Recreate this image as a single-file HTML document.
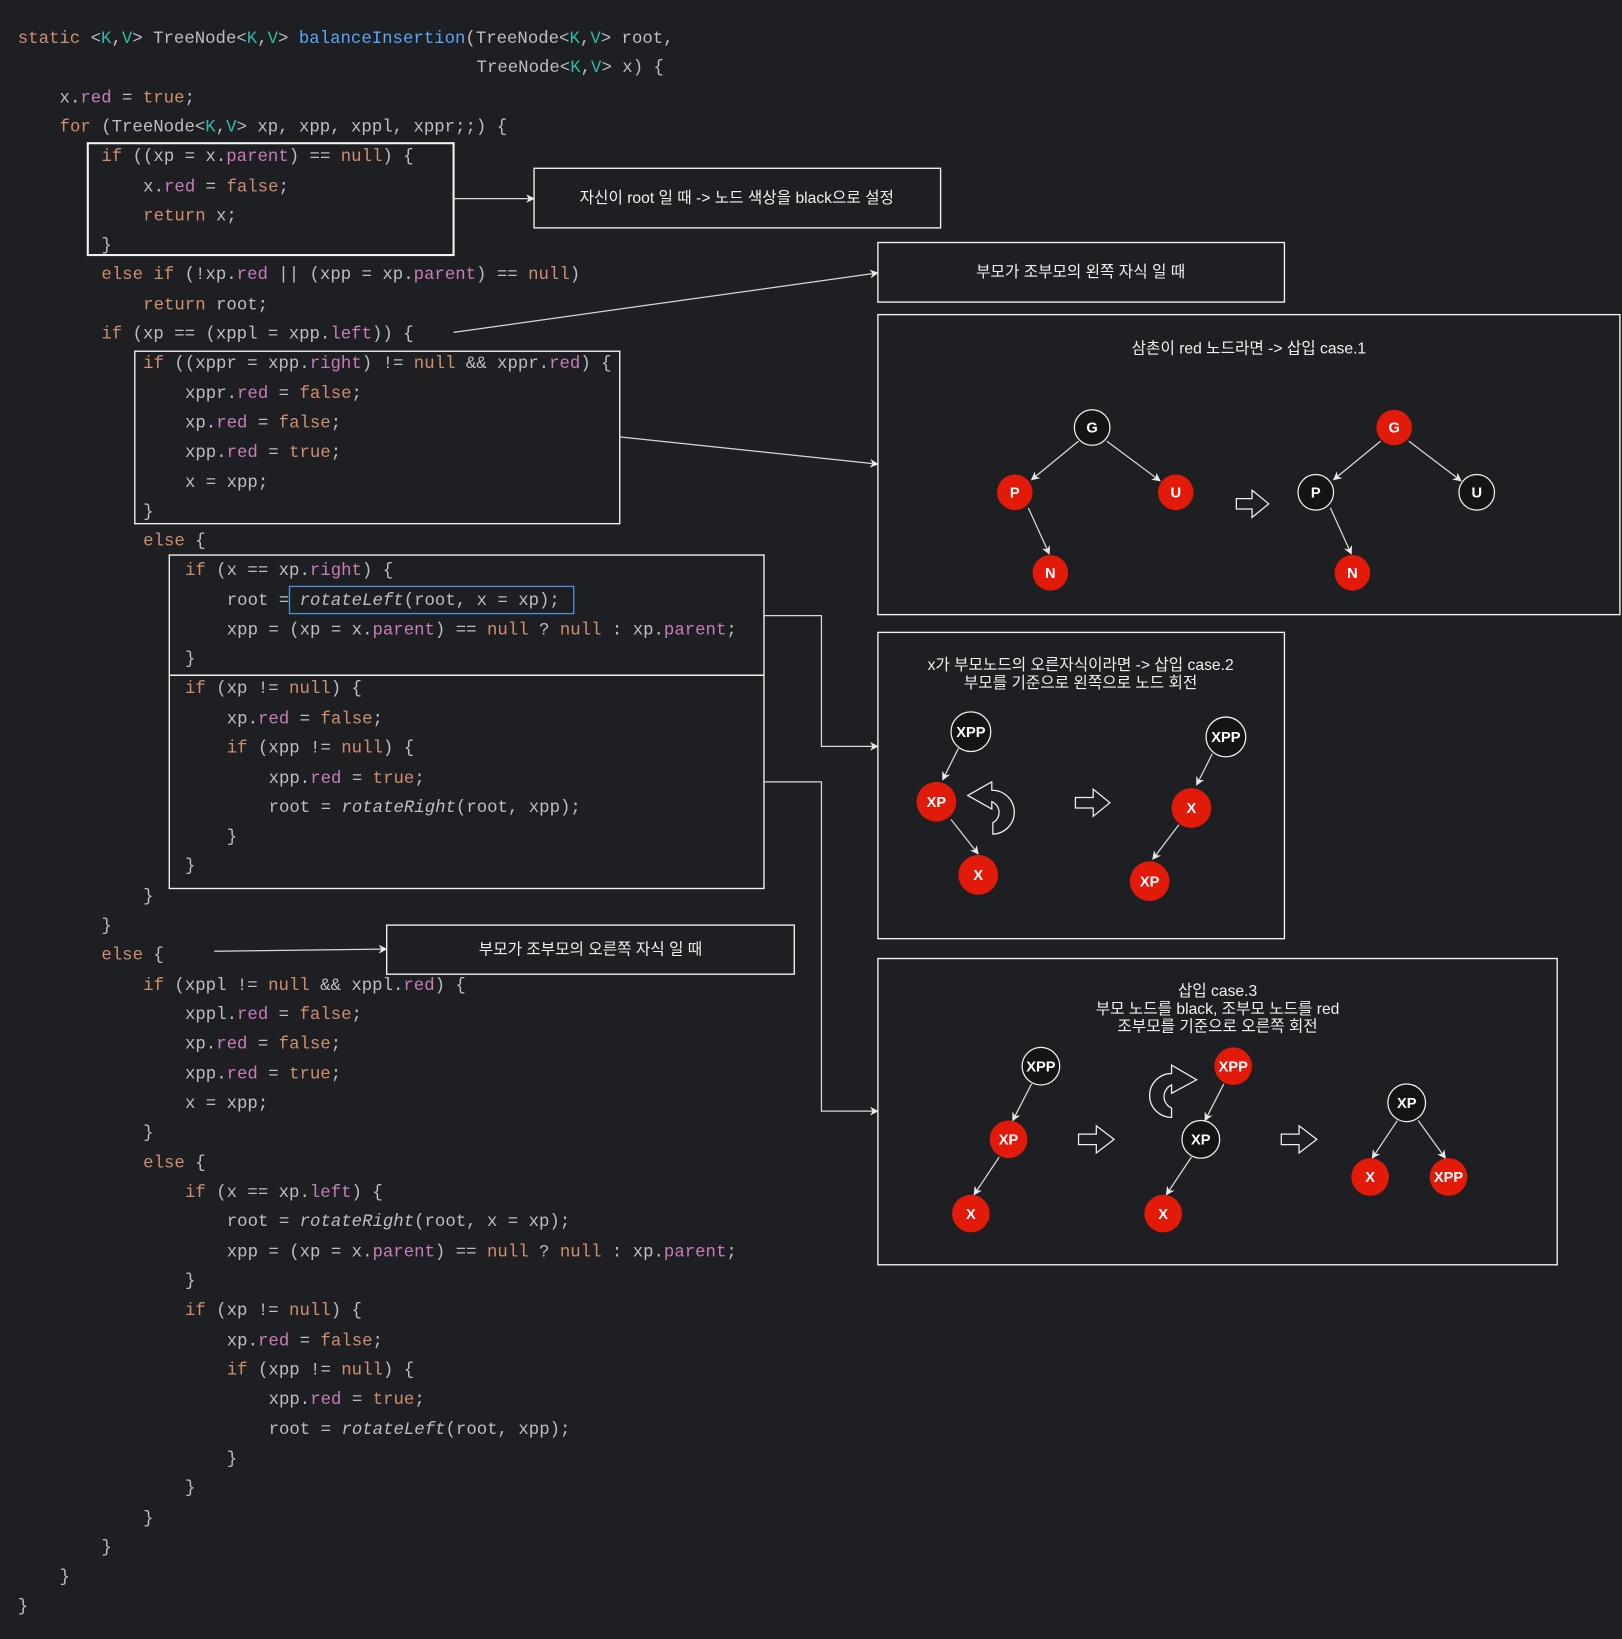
<!DOCTYPE html>
<html><head><meta charset="utf-8"><style>
html,body{margin:0;padding:0;background:#1e1f22;}
svg{display:block}
.c{font-family:"Liberation Mono",monospace;font-size:16.6px;fill:#bcbec4;white-space:pre}
.k{fill:#cf8e6d}.f{fill:#c77dbb}.t{fill:#2fb8a8}.m{fill:#56a8f5}.i{font-style:italic}
.lb{font-family:"Liberation Sans","Noto Sans CJK KR",sans-serif;font-size:15px;fill:#f0f0f0;text-anchor:middle}
.nd{font-family:"Liberation Sans",sans-serif;font-weight:bold;font-size:14px;fill:#fff;text-anchor:middle}
.bx{fill:none;stroke:#f2f2f2;stroke-width:1.3}
.ln{fill:none;stroke:#d8d8d8;stroke-width:1.2}
.blk{fill:#141417;stroke:#f0f0f0;stroke-width:1.2}
.red{fill:#e21a0a}
.ar{fill:#1e1f22;stroke:#f0f0f0;stroke-width:1.2}
</style></head><body>
<svg width="1622" height="1639" viewBox="0 0 1552 1568" preserveAspectRatio="none" xmlns="http://www.w3.org/2000/svg">
<defs><marker id="a" viewBox="0 0 10 10" refX="9" refY="5" markerWidth="7" markerHeight="7" orient="auto"><path d="M0,0 L10,5 L0,10 L3,5 Z" fill="#e8e8e8"/></marker></defs>
<rect width="1552" height="1568" fill="#1e1f22"/>
<g class="c" xml:space="preserve">
<text x="17" y="41"><tspan class="k">static</tspan> &lt;<tspan class="t">K</tspan>,<tspan class="t">V</tspan>&gt; TreeNode&lt;<tspan class="t">K</tspan>,<tspan class="t">V</tspan>&gt; <tspan class="m">balanceInsertion</tspan>(TreeNode&lt;<tspan class="t">K</tspan>,<tspan class="t">V</tspan>&gt; root,</text>
<text x="456" y="69">TreeNode&lt;<tspan class="t">K</tspan>,<tspan class="t">V</tspan>&gt; x) {</text>
<text x="57" y="98">x.<tspan class="f">red</tspan> = <tspan class="k">true</tspan>;</text>
<text x="57" y="126"><tspan class="k">for</tspan> (TreeNode&lt;<tspan class="t">K</tspan>,<tspan class="t">V</tspan>&gt; xp, xpp, xppl, xppr;;) {</text>
<text x="97" y="154"><tspan class="k">if</tspan> ((xp = x.<tspan class="f">parent</tspan>) == <tspan class="k">null</tspan>) {</text>
<text x="137" y="183">x.<tspan class="f">red</tspan> = <tspan class="k">false</tspan>;</text>
<text x="137" y="211"><tspan class="k">return</tspan> x;</text>
<text x="97" y="239">}</text>
<text x="97" y="267"><tspan class="k">else if</tspan> (!xp.<tspan class="f">red</tspan> || (xpp = xp.<tspan class="f">parent</tspan>) == <tspan class="k">null</tspan>)</text>
<text x="137" y="296"><tspan class="k">return</tspan> root;</text>
<text x="97" y="324"><tspan class="k">if</tspan> (xp == (xppl = xpp.<tspan class="f">left</tspan>)) {</text>
<text x="137" y="352"><tspan class="k">if</tspan> ((xppr = xpp.<tspan class="f">right</tspan>) != <tspan class="k">null</tspan> &amp;&amp; xppr.<tspan class="f">red</tspan>) {</text>
<text x="177" y="381">xppr.<tspan class="f">red</tspan> = <tspan class="k">false</tspan>;</text>
<text x="177" y="409">xp.<tspan class="f">red</tspan> = <tspan class="k">false</tspan>;</text>
<text x="177" y="437">xpp.<tspan class="f">red</tspan> = <tspan class="k">true</tspan>;</text>
<text x="177" y="466">x = xpp;</text>
<text x="137" y="494">}</text>
<text x="137" y="522"><tspan class="k">else</tspan> {</text>
<text x="177" y="550"><tspan class="k">if</tspan> (x == xp.<tspan class="f">right</tspan>) {</text>
<text x="217" y="579">root = <tspan class="i">rotateLeft</tspan>(root, x = xp);</text>
<text x="217" y="607">xpp = (xp = x.<tspan class="f">parent</tspan>) == <tspan class="k">null</tspan> ? <tspan class="k">null</tspan> : xp.<tspan class="f">parent</tspan>;</text>
<text x="177" y="635">}</text>
<text x="177" y="663"><tspan class="k">if</tspan> (xp != <tspan class="k">null</tspan>) {</text>
<text x="217" y="692">xp.<tspan class="f">red</tspan> = <tspan class="k">false</tspan>;</text>
<text x="217" y="720"><tspan class="k">if</tspan> (xpp != <tspan class="k">null</tspan>) {</text>
<text x="257" y="749">xpp.<tspan class="f">red</tspan> = <tspan class="k">true</tspan>;</text>
<text x="257" y="777">root = <tspan class="i">rotateRight</tspan>(root, xpp);</text>
<text x="217" y="805">}</text>
<text x="177" y="833">}</text>
<text x="137" y="862">}</text>
<text x="97" y="890">}</text>
<text x="97" y="918"><tspan class="k">else</tspan> {</text>
<text x="137" y="947"><tspan class="k">if</tspan> (xppl != <tspan class="k">null</tspan> &amp;&amp; xppl.<tspan class="f">red</tspan>) {</text>
<text x="177" y="975">xppl.<tspan class="f">red</tspan> = <tspan class="k">false</tspan>;</text>
<text x="177" y="1003">xp.<tspan class="f">red</tspan> = <tspan class="k">false</tspan>;</text>
<text x="177" y="1032">xpp.<tspan class="f">red</tspan> = <tspan class="k">true</tspan>;</text>
<text x="177" y="1060">x = xpp;</text>
<text x="137" y="1088">}</text>
<text x="137" y="1117"><tspan class="k">else</tspan> {</text>
<text x="177" y="1145"><tspan class="k">if</tspan> (x == xp.<tspan class="f">left</tspan>) {</text>
<text x="217" y="1173">root = <tspan class="i">rotateRight</tspan>(root, x = xp);</text>
<text x="217" y="1202">xpp = (xp = x.<tspan class="f">parent</tspan>) == <tspan class="k">null</tspan> ? <tspan class="k">null</tspan> : xp.<tspan class="f">parent</tspan>;</text>
<text x="177" y="1230">}</text>
<text x="177" y="1258"><tspan class="k">if</tspan> (xp != <tspan class="k">null</tspan>) {</text>
<text x="217" y="1287">xp.<tspan class="f">red</tspan> = <tspan class="k">false</tspan>;</text>
<text x="217" y="1315"><tspan class="k">if</tspan> (xpp != <tspan class="k">null</tspan>) {</text>
<text x="257" y="1343">xpp.<tspan class="f">red</tspan> = <tspan class="k">true</tspan>;</text>
<text x="257" y="1372">root = <tspan class="i">rotateLeft</tspan>(root, xpp);</text>
<text x="217" y="1400">}</text>
<text x="177" y="1428">}</text>
<text x="137" y="1457">}</text>
<text x="97" y="1485">}</text>
<text x="57" y="1513">}</text>
<text x="17" y="1541">}</text>
</g>
<rect class="bx" x="84" y="137" width="350" height="107" style="stroke-width:2"/>
<rect class="bx" x="129" y="336" width="464" height="165"/>
<rect class="bx" x="162" y="531" width="569" height="115"/>
<rect class="bx" x="162" y="646" width="569" height="204"/>
<rect x="277" y="561" width="272" height="26" fill="none" stroke="#4a8fd8" stroke-width="1.3"/>
<rect class="bx" x="511" y="161" width="389" height="57"/>
<text class="lb" x="705" y="194">자신이 root 일 때 -&gt; 노드 색상을 black으로 설정</text>
<rect class="bx" x="840" y="232" width="389" height="57"/>
<text class="lb" x="1034" y="265">부모가 조부모의 왼쪽 자식 일 때</text>
<rect class="bx" x="370" y="885" width="390" height="47"/>
<text class="lb" x="565" y="913">부모가 조부모의 오른쪽 자식 일 때</text>
<path class="ln" d="M434,190 L511,190" marker-end="url(#a)"/>
<path class="ln" d="M434,318 L840,261" marker-end="url(#a)"/>
<path class="ln" d="M593,418 L840,444" marker-end="url(#a)"/>
<path class="ln" d="M731,589 L786,589 L786,714 L840,714" marker-end="url(#a)"/>
<path class="ln" d="M731,748 L786,748 L786,1063 L840,1063" marker-end="url(#a)"/>
<path class="ln" d="M205,910 L370,908" marker-end="url(#a)"/>
<rect class="bx" x="840" y="301" width="710" height="287"/>
<text class="lb" x="1195" y="338">삼촌이 red 노드라면 -&gt; 삽입 case.1</text>
<g class="ln">
<path d="M1032,422 L987,459" marker-end="url(#a)"/><path d="M1059,422 L1110,460" marker-end="url(#a)"/><path d="M984,486 L1004,530" marker-end="url(#a)"/>
<path d="M1321,422 L1276,459" marker-end="url(#a)"/><path d="M1348,422 L1398,460" marker-end="url(#a)"/><path d="M1273,486 L1293,530" marker-end="url(#a)"/>
</g>
<circle class="blk" cx="1045" cy="409" r="17"/><text class="nd" x="1045" y="414">G</text>
<circle class="red" cx="971" cy="471" r="17"/><text class="nd" x="971" y="476">P</text>
<circle class="red" cx="1125" cy="471" r="17"/><text class="nd" x="1125" y="476">U</text>
<circle class="red" cx="1005" cy="548" r="17"/><text class="nd" x="1005" y="553">N</text>
<circle class="red" cx="1334" cy="409" r="17"/><text class="nd" x="1334" y="414">G</text>
<circle class="blk" cx="1259" cy="471" r="17"/><text class="nd" x="1259" y="476">P</text>
<circle class="blk" cx="1413" cy="471" r="17"/><text class="nd" x="1413" y="476">U</text>
<circle class="red" cx="1294" cy="548" r="17"/><text class="nd" x="1294" y="553">N</text>
<path class="ar" d="M1183,477 L1198,477 L1198,469 L1214,482 L1198,495 L1198,487 L1183,487 Z"/>
<rect class="bx" x="840" y="605" width="389" height="293"/>
<text class="lb" x="1034" y="641">x가 부모노드의 오른자식이라면 -&gt; 삽입 case.2</text>
<text class="lb" x="1034" y="658">부모를 기준으로 왼쪽으로 노드 회전</text>
<g class="ln">
<path d="M917,716 L902,746" marker-end="url(#a)"/><path d="M910,784 L936,817" marker-end="url(#a)"/>
<path d="M1160,721 L1145,751" marker-end="url(#a)"/><path d="M1128,789 L1103,822" marker-end="url(#a)"/>
</g>
<circle class="blk" cx="929" cy="700" r="19"/><text class="nd" x="929" y="705">XPP</text>
<circle class="red" cx="896" cy="767" r="19"/><text class="nd" x="896" y="772">XP</text>
<circle class="red" cx="936" cy="837" r="19"/><text class="nd" x="936" y="842">X</text>
<circle class="blk" cx="1173" cy="705" r="19"/><text class="nd" x="1173" y="710">XPP</text>
<circle class="red" cx="1140" cy="773" r="19"/><text class="nd" x="1140" y="778">X</text>
<circle class="red" cx="1100" cy="843" r="19"/><text class="nd" x="1100" y="848">XP</text>
<path class="ar" d="M926,761 L949,748 L949,756 A21,21 0 0 1 950,798 L950,787 A11,11 0 0 0 949,767 L949,774 Z"/>
<path class="ar" d="M1029,763 L1046,763 L1046,755 L1062,768 L1046,781 L1046,773 L1029,773 Z"/>
<rect class="bx" x="840" y="917" width="650" height="293"/>
<text class="lb" x="1165" y="953">삽입 case.3</text>
<text class="lb" x="1165" y="970">부모 노드를 black, 조부모 노드를 red</text>
<text class="lb" x="1165" y="987">조부모를 기준으로 오른쪽 회전</text>
<g class="ln">
<path d="M987,1037 L969,1072" marker-end="url(#a)"/><path d="M956,1107 L932,1143" marker-end="url(#a)"/>
<path d="M1171,1037 L1153,1072" marker-end="url(#a)"/><path d="M1140,1107 L1116,1143" marker-end="url(#a)"/>
<path d="M1337,1072 L1313,1108" marker-end="url(#a)"/><path d="M1357,1072 L1383,1108" marker-end="url(#a)"/>
</g>
<circle class="blk" cx="996" cy="1020" r="18"/><text class="nd" x="996" y="1025">XPP</text>
<circle class="red" cx="965" cy="1090" r="18"/><text class="nd" x="965" y="1095">XP</text>
<circle class="red" cx="929" cy="1161" r="18"/><text class="nd" x="929" y="1166">X</text>
<circle class="red" cx="1180" cy="1020" r="18"/><text class="nd" x="1180" y="1025">XPP</text>
<circle class="blk" cx="1149" cy="1090" r="18"/><text class="nd" x="1149" y="1095">XP</text>
<circle class="red" cx="1113" cy="1161" r="18"/><text class="nd" x="1113" y="1166">X</text>
<circle class="blk" cx="1346" cy="1055" r="18"/><text class="nd" x="1346" y="1060">XP</text>
<circle class="red" cx="1311" cy="1126" r="18"/><text class="nd" x="1311" y="1131">X</text>
<circle class="red" cx="1386" cy="1126" r="18"/><text class="nd" x="1386" y="1131">XPP</text>
<path class="ar" d="M1145,1033 L1121,1019 L1121,1027 A21,21 0 0 0 1121,1069 L1121,1060 A12,12 0 0 1 1121,1038 L1121,1046 Z"/>
<path class="ar" d="M1032,1085 L1049,1085 L1049,1077 L1066,1090 L1049,1103 L1049,1095 L1032,1095 Z"/>
<path class="ar" d="M1226,1085 L1243,1085 L1243,1077 L1260,1090 L1243,1103 L1243,1095 L1226,1095 Z"/>
</svg>
</body></html>
